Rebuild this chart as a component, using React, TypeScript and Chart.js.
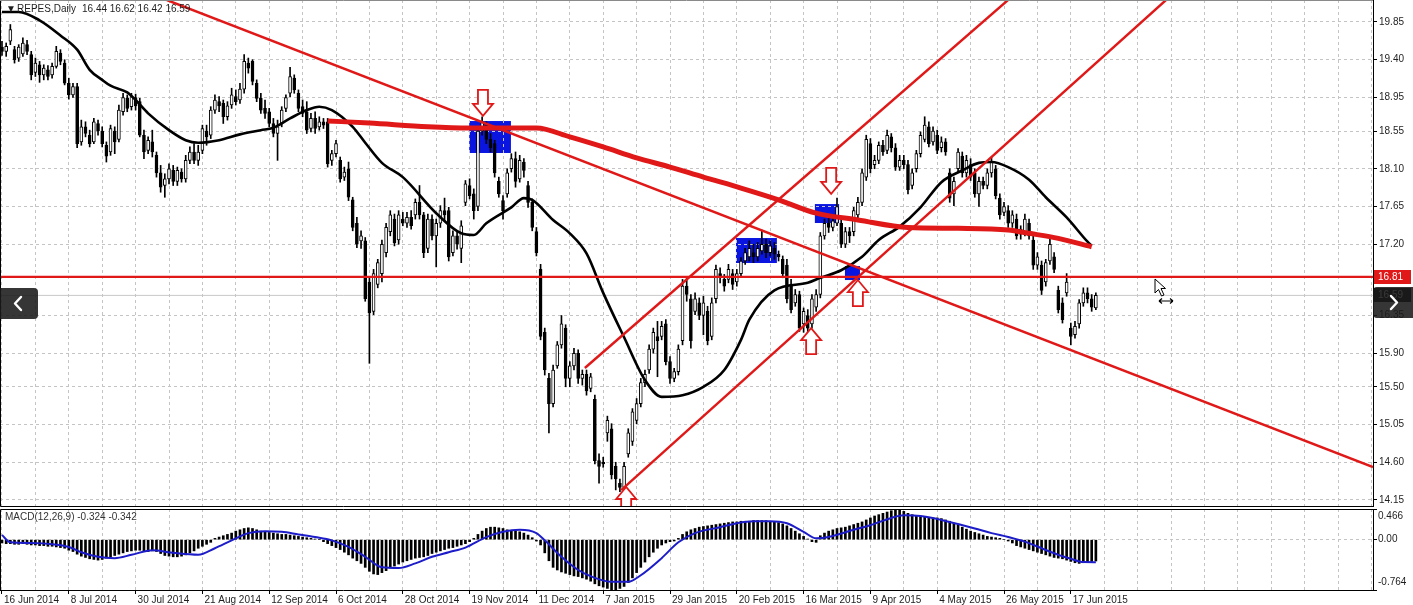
import React, { useEffect, useRef } from 'react';
import { Chart, registerables } from 'chart.js';

Chart.register(...registerables);

const FONT = '"Liberation Sans", Arial, sans-serif';
const RED = '#e01818';
const ZONE_BLUE = '#0a16e0';
const SIGNAL_BLUE = '#1c1cc8';
const GRID = '#c4c4c4';
const TEXT = '#1e1e1e';

// ---- tick labels / titles ----
const dateLabels = [
  '16 Jun 2014', '8 Jul 2014', '30 Jul 2014', '21 Aug 2014', '12 Sep 2014', '6 Oct 2014',
  '28 Oct 2014', '19 Nov 2014', '11 Dec 2014', '7 Jan 2015', '29 Jan 2015', '20 Feb 2015',
  '16 Mar 2015', '9 Apr 2015', '4 May 2015', '26 May 2015', '17 Jun 2015',
];
const priceTicks = [19.85, 19.4, 18.95, 18.55, 18.1, 17.65, 17.2, 16.35, 15.9, 15.5, 15.05, 14.6, 14.15];
const symbolTitle = 'REPES,Daily';
const lastOHLC = '16.44 16.62 16.42 16.59';
const macdTitle = 'MACD(12,26,9) -0.324 -0.342';
const macdMax = 0.466;
const macdMin = -0.764;
const levelLine = 16.81;
const bidPrice = 16.59;

// ---- daily candles (one per bar) ----
const opens = [
  19.55, 19.50, 19.62, 19.52, 19.42, 19.47, 19.58, 19.46, 19.25, 19.34,
  19.22, 19.28, 19.22, 19.32, 19.48, 19.36, 19.12, 18.98, 19.08, 18.42,
  18.60, 18.50, 18.42, 18.64, 18.55, 18.38, 18.30, 18.55, 18.45, 18.78,
  18.94, 18.84, 18.95, 18.90, 18.50, 18.32, 18.42, 18.26, 18.05, 17.90,
  17.98, 18.08, 17.95, 18.06, 17.98, 18.20, 18.30, 18.20, 18.32, 18.55,
  18.50, 18.80, 18.90, 18.88, 18.72, 18.86, 18.96, 18.92, 19.05, 19.36,
  19.38, 19.12, 18.94, 18.82, 18.78, 18.64, 18.52, 18.64, 18.82, 19.00,
  19.18, 19.00, 18.84, 18.78, 18.58, 18.70, 18.60, 18.66, 18.66, 18.20,
  18.28, 18.20, 18.00, 18.10, 17.73, 17.45, 17.24, 17.24, 16.75, 16.40,
  16.72, 16.85, 17.10, 17.35, 17.50, 17.25, 17.50, 17.45, 17.52, 17.55,
  17.70, 17.55, 17.15, 17.50, 17.30, 17.45, 17.60, 17.60, 17.10, 17.30,
  17.15, 17.70, 17.90, 17.80, 17.65, 18.55, 18.62, 18.45, 18.40, 17.95,
  17.72, 17.80, 18.10, 18.22, 17.98, 18.18, 17.90, 17.70, 17.35, 16.90,
  16.15, 15.60, 15.30, 15.75, 16.00, 16.20, 15.60, 15.75, 15.90, 15.60,
  15.65, 15.48, 15.35, 14.62, 14.60, 14.95, 15.00, 14.55, 14.35, 14.30,
  14.70, 14.85, 15.10, 15.30, 15.55, 15.70, 15.95, 16.10, 16.10, 16.25,
  15.80, 15.60, 15.68, 16.05, 16.70, 16.55, 16.40, 16.50, 16.35, 16.40,
  16.10, 16.55, 16.85, 16.78, 16.78, 16.85, 16.75, 16.85, 17.00, 17.05,
  17.10, 17.05, 17.12, 17.20, 17.10, 17.15, 17.08, 17.02, 16.95, 16.72,
  16.50, 16.60, 16.25, 16.35, 16.25, 16.45, 16.60, 17.30, 17.45, 17.40,
  17.45, 17.45, 17.20, 17.35, 17.35, 17.55, 17.70, 18.00, 18.40, 18.15,
  18.20, 18.38, 18.32, 18.48, 18.35, 18.12, 18.20, 18.15, 17.90, 18.10,
  18.28, 18.45, 18.60, 18.42, 18.50, 18.35, 18.42, 18.05, 17.80, 18.10,
  18.25, 18.05, 18.15, 18.05, 17.80, 17.95, 17.90, 18.05, 18.10, 17.75,
  17.58, 17.60, 17.45, 17.50, 17.32, 17.35, 17.45, 17.25, 16.95, 16.95,
  16.75, 17.00, 17.05, 16.65, 16.50, 16.62, 16.20, 16.12, 16.25, 16.50,
  16.62, 16.55, 16.44,
];
const highs = [
  19.62, 19.60, 19.82, 19.56, 19.58, 19.66, 19.63, 19.50, 19.42, 19.38,
  19.34, 19.33, 19.36, 19.56, 19.52, 19.40, 19.18, 19.12, 19.12, 18.68,
  18.66, 18.56, 18.70, 18.68, 18.60, 18.42, 18.62, 18.60, 18.86, 19.00,
  18.98, 19.00, 18.99, 18.94, 18.56, 18.48, 18.56, 18.30, 18.14, 18.04,
  18.16, 18.14, 18.12, 18.10, 18.26, 18.36, 18.40, 18.38, 18.62, 18.62,
  18.84, 18.98, 18.96, 18.92, 18.90, 19.06, 19.04, 19.12, 19.46, 19.42,
  19.40, 19.16, 19.00, 18.92, 18.82, 18.70, 18.68, 18.84, 18.98, 19.31,
  19.22, 19.04, 18.92, 18.90, 18.76, 18.78, 18.72, 18.70, 18.70, 18.32,
  18.44, 18.24, 18.12, 18.18, 17.76, 17.52, 17.36, 17.28, 16.80, 16.90,
  17.02, 17.25, 17.45, 17.60, 17.56, 17.60, 17.58, 17.58, 17.60, 17.74,
  17.90, 17.58, 17.56, 17.55, 17.50, 17.66, 17.75, 17.64, 17.36, 17.36,
  17.48, 17.96, 17.98, 17.86, 18.60, 18.72, 18.66, 18.52, 18.44, 18.00,
  17.78, 18.10, 18.28, 18.30, 18.26, 18.22, 17.95, 17.74, 17.40, 16.96,
  16.20, 15.66, 15.76, 16.04, 16.35, 16.24, 15.80, 15.96, 15.94, 15.70,
  15.70, 15.66, 15.40, 14.70, 14.66, 15.15, 15.06, 14.60, 14.40, 14.60,
  15.00, 15.24, 15.36, 15.60, 15.70, 16.00, 16.20, 16.28, 16.28, 16.30,
  15.86, 15.72, 16.00, 16.78, 16.80, 16.60, 16.62, 16.56, 16.58, 16.46,
  16.56, 16.95, 16.92, 16.84, 16.96, 16.90, 16.90, 17.04, 17.15, 17.24,
  17.20, 17.22, 17.37, 17.26, 17.24, 17.22, 17.12, 17.06, 17.02, 16.78,
  16.66, 16.64, 16.44, 16.42, 16.60, 16.66, 17.34, 17.50, 17.52, 17.55,
  17.75, 17.50, 17.40, 17.40, 17.64, 17.76, 18.10, 18.50, 18.46, 18.26,
  18.42, 18.44, 18.56, 18.52, 18.40, 18.26, 18.26, 18.20, 18.10, 18.32,
  18.54, 18.72, 18.66, 18.60, 18.56, 18.48, 18.46, 18.10, 18.00, 18.34,
  18.30, 18.26, 18.22, 18.10, 18.00, 18.00, 18.10, 18.24, 18.14, 17.80,
  17.70, 17.66, 17.60, 17.56, 17.42, 17.56, 17.50, 17.30, 17.10, 17.00,
  17.02, 17.30, 17.10, 16.70, 16.56, 16.85, 16.26, 16.28, 16.54, 16.68,
  16.68, 16.60, 16.62,
];
const lows = [
  19.45, 19.44, 19.58, 19.36, 19.38, 19.44, 19.46, 19.16, 19.20, 19.13,
  19.16, 19.16, 19.18, 19.30, 19.34, 19.10, 18.93, 18.95, 18.35, 18.38,
  18.48, 18.36, 18.40, 18.50, 18.36, 18.18, 18.26, 18.28, 18.42, 18.74,
  18.78, 18.80, 18.80, 18.48, 18.22, 18.28, 18.24, 18.00, 17.82, 17.76,
  17.92, 17.90, 17.90, 17.94, 17.94, 18.16, 18.16, 18.14, 18.28, 18.38,
  18.46, 18.76, 18.78, 18.64, 18.68, 18.82, 18.86, 18.88, 19.00, 19.24,
  19.10, 18.90, 18.76, 18.70, 18.60, 18.48, 18.20, 18.60, 18.78, 18.96,
  19.00, 18.78, 18.72, 18.52, 18.54, 18.52, 18.56, 18.58, 18.12, 18.14,
  18.24, 17.94, 17.96, 17.72, 17.36, 17.16, 17.15, 16.52, 15.78, 16.36,
  16.68, 16.75, 17.05, 17.30, 17.18, 17.20, 17.42, 17.40, 17.38, 17.50,
  17.50, 17.04, 17.10, 17.25, 16.93, 17.40, 17.48, 17.00, 17.06, 17.14,
  16.98, 17.66, 17.74, 17.50, 17.60, 18.50, 18.40, 18.30, 18.00, 17.76,
  17.50, 17.76, 18.06, 17.88, 17.94, 18.00, 17.64, 17.36, 17.06, 16.06,
  15.64, 14.95, 15.26, 15.72, 15.96, 15.50, 15.50, 15.70, 15.54, 15.52,
  15.40, 15.44, 14.58, 14.35, 14.54, 14.85, 14.40, 14.27, 14.25, 14.28,
  14.66, 14.80, 15.06, 15.26, 15.50, 15.66, 15.90, 15.62, 16.06, 15.76,
  15.54, 15.56, 15.64, 16.00, 16.52, 15.96, 16.36, 16.30, 16.12, 16.00,
  16.06, 16.50, 16.74, 16.64, 16.74, 16.66, 16.70, 16.80, 16.96, 17.00,
  16.98, 17.00, 17.08, 17.04, 17.06, 17.02, 17.00, 16.80, 16.50, 16.38,
  16.46, 16.16, 16.15, 16.14, 16.20, 16.40, 16.56, 17.26, 17.34, 17.36,
  17.42, 17.16, 17.16, 17.22, 17.30, 17.50, 17.66, 17.96, 18.05, 18.10,
  18.16, 18.26, 18.28, 18.30, 18.08, 18.08, 18.10, 17.80, 17.86, 18.06,
  18.24, 18.42, 18.36, 18.38, 18.28, 18.30, 18.26, 17.70, 17.66, 18.06,
  18.00, 18.00, 17.96, 17.76, 17.65, 17.86, 17.86, 18.00, 17.74, 17.50,
  17.54, 17.40, 17.40, 17.26, 17.26, 17.30, 17.26, 16.90, 16.90, 16.60,
  16.70, 16.96, 16.86, 16.38, 16.26, 16.58, 16.00, 16.08, 16.20, 16.46,
  16.50, 16.40, 16.42,
];
const closes = [
  19.50, 19.56, 19.76, 19.40, 19.55, 19.60, 19.50, 19.22, 19.36, 19.22,
  19.30, 19.20, 19.32, 19.50, 19.38, 19.12, 18.98, 19.08, 18.40, 18.60,
  18.52, 18.40, 18.66, 18.55, 18.40, 18.25, 18.58, 18.42, 18.80, 18.95,
  18.82, 18.96, 18.85, 18.50, 18.30, 18.44, 18.30, 18.05, 17.88, 17.98,
  18.10, 17.95, 18.08, 17.98, 18.20, 18.30, 18.20, 18.30, 18.58, 18.48,
  18.80, 18.92, 18.85, 18.72, 18.85, 18.98, 18.90, 19.05, 19.38, 19.30,
  19.14, 18.94, 18.80, 18.76, 18.64, 18.52, 18.60, 18.80, 18.95, 19.20,
  19.04, 18.82, 18.76, 18.56, 18.70, 18.58, 18.66, 18.62, 18.16, 18.28,
  18.40, 17.98, 18.06, 17.76, 17.40, 17.20, 17.30, 16.55, 16.38, 16.85,
  16.98, 17.20, 17.40, 17.55, 17.22, 17.55, 17.45, 17.52, 17.42, 17.70,
  17.55, 17.10, 17.50, 17.30, 17.45, 17.60, 17.55, 17.05, 17.30, 17.20,
  17.42, 17.92, 17.78, 17.60, 18.55, 18.65, 18.45, 18.35, 18.05, 17.80,
  17.60, 18.05, 18.22, 17.95, 18.20, 18.08, 17.70, 17.40, 17.10, 16.10,
  15.70, 15.30, 15.70, 16.00, 16.25, 15.60, 15.75, 15.90, 15.60, 15.65,
  15.45, 15.62, 14.62, 14.55, 14.58, 15.10, 14.45, 14.40, 14.30, 14.55,
  14.95, 15.20, 15.30, 15.55, 15.65, 15.95, 16.15, 16.05, 16.22, 15.80,
  15.60, 15.68, 15.95, 16.70, 16.60, 16.05, 16.55, 16.35, 16.50, 16.05,
  16.50, 16.90, 16.80, 16.70, 16.90, 16.72, 16.85, 17.00, 17.10, 17.15,
  17.05, 17.15, 17.20, 17.10, 17.18, 17.08, 17.05, 16.85, 16.55, 16.42,
  16.60, 16.20, 16.40, 16.20, 16.55, 16.60, 17.30, 17.45, 17.40, 17.48,
  17.65, 17.20, 17.35, 17.30, 17.60, 17.70, 18.05, 18.45, 18.10, 18.20,
  18.38, 18.30, 18.50, 18.35, 18.12, 18.20, 18.15, 17.85, 18.05, 18.28,
  18.50, 18.62, 18.40, 18.55, 18.32, 18.42, 18.30, 17.75, 17.95, 18.30,
  18.05, 18.20, 18.00, 17.80, 17.95, 17.90, 18.05, 18.18, 17.78, 17.55,
  17.65, 17.45, 17.55, 17.30, 17.38, 17.50, 17.30, 16.95, 17.05, 16.65,
  16.98, 17.20, 16.90, 16.42, 16.30, 16.75, 16.10, 16.22, 16.50, 16.62,
  16.55, 16.45, 16.59,
];

// ---- moving averages at sample bars ----
const maFastBars = [
  0, 4, 9, 14, 18, 21, 24, 26, 30, 32, 35, 40, 44, 47, 52, 57, 62, 65, 69, 73,
  76, 79, 84, 87, 91, 96, 104, 110, 113, 116, 122, 125, 127, 132, 136, 140, 144, 149, 154, 158,
  163, 168, 173, 177, 179, 185, 193, 196, 201, 206, 210, 215, 220, 225, 230, 234, 237, 241, 246, 250,
  255, 260, 261,
];
const maFastValues = [
  19.97, 19.97, 19.87, 19.69, 19.52, 19.28, 19.16, 19.09, 19.01, 18.92, 18.76, 18.56, 18.44, 18.41, 18.44, 18.51, 18.56, 18.59, 18.70, 18.80,
  18.84, 18.80, 18.60, 18.41, 18.17, 18.00, 17.57, 17.33, 17.31, 17.45, 17.64, 17.75, 17.73, 17.49, 17.33, 17.09, 16.62, 16.09, 15.58, 15.38,
  15.40, 15.50, 15.70, 16.06, 16.30, 16.65, 16.74, 16.80, 16.89, 17.05, 17.25, 17.41, 17.64, 17.94, 18.08, 18.17, 18.18, 18.12, 17.97, 17.76,
  17.52, 17.23, 17.18,
];
const maSlowBars = [78, 88, 102, 112, 128, 136, 144, 152, 160, 168, 177, 186, 195, 205, 217, 229, 241, 246, 253, 261];
const maSlowValues = [18.67, 18.645, 18.60, 18.585, 18.585, 18.48, 18.36, 18.23, 18.12, 18.00, 17.87, 17.73, 17.57, 17.49, 17.40, 17.39, 17.37, 17.33, 17.27, 17.17];

// ---- MACD(12,26,9): main line as histogram, signal line ----
const macdHist = [
  -0.05, -0.06, -0.06, -0.07, -0.07, -0.06, -0.07, -0.08,
  -0.08, -0.09, -0.09, -0.10, -0.10, -0.11, -0.12, -0.13,
  -0.16, -0.18, -0.22, -0.25, -0.27, -0.29, -0.30, -0.31,
  -0.30, -0.28, -0.26, -0.24, -0.22, -0.20, -0.18, -0.17,
  -0.16, -0.16, -0.17, -0.18, -0.17, -0.18,
  -0.21, -0.24, -0.25, -0.26, -0.26, -0.25, -0.23,
  -0.20, -0.17, -0.13, -0.10, -0.07, -0.04,
  0.02, 0.04, 0.06, 0.08, 0.10,
  0.13, 0.15, 0.17, 0.18, 0.17, 0.15, 0.13,
  0.12, 0.11, 0.10, 0.09, 0.08, 0.08, 0.07, 0.06, 0.05,
  0.04, 0.03, 0.02, 0.01, 0.00,
  -0.03, -0.06, -0.09, -0.12, -0.15, -0.19, -0.23, -0.28, -0.32, -0.36,
  -0.42, -0.48, -0.52, -0.53,
  -0.50, -0.47, -0.43, -0.40, -0.37,
  -0.34, -0.32, -0.30, -0.28, -0.27, -0.26, -0.24, -0.21,
  -0.19, -0.17, -0.15, -0.13, -0.12, -0.10, -0.08, -0.06,
  -0.03, 0.02, 0.08,
  0.13, 0.17, 0.19, 0.19, 0.18, 0.17,
  0.15, 0.14, 0.13, 0.12, 0.10, 0.07,
  0.03, -0.02, -0.08,
  -0.20, -0.32, -0.42,
  -0.46, -0.49, -0.51, -0.53, -0.55, -0.56, -0.58, -0.60,
  -0.63, -0.67, -0.70, -0.72, -0.74, -0.764, -0.76, -0.74, -0.71,
  -0.65, -0.58, -0.50, -0.42, -0.34, -0.26, -0.19, -0.13,
  -0.08, -0.05, -0.03, -0.02, 0.02,
  0.08, 0.12, 0.15, 0.17, 0.19, 0.20,
  0.21, 0.22, 0.23, 0.24, 0.25, 0.26, 0.27, 0.27, 0.28, 0.28,
  0.28, 0.29, 0.29, 0.29, 0.29, 0.28, 0.27, 0.26, 0.24, 0.21,
  0.17, 0.13, 0.09, 0.05,
  0.01, -0.03, -0.04,
  0.06, 0.10, 0.13, 0.15, 0.17, 0.18, 0.19, 0.21, 0.23, 0.25, 0.27, 0.30, 0.33,
  0.36, 0.38, 0.40, 0.42, 0.44, 0.466, 0.45, 0.43,
  0.40, 0.38, 0.37, 0.36, 0.35, 0.34, 0.33, 0.33, 0.32, 0.30, 0.28,
  0.25, 0.22, 0.19, 0.16, 0.13, 0.11, 0.09,
  0.07, 0.05, 0.04, 0.03, 0.02,
  0.00, -0.02, -0.05,
  -0.09, -0.11, -0.13, -0.15, -0.17, -0.19, -0.21,
  -0.23, -0.25, -0.27, -0.28, -0.29, -0.31,
  -0.33, -0.35, -0.36, -0.35, -0.34, -0.33, -0.324,
];
const signalBars = [
  0, 2, 7, 16, 19, 23, 27, 31, 36, 41, 47, 51, 55, 59, 63, 67, 71, 75, 79, 83,
  87, 91, 95, 99, 103, 107, 111, 116, 120, 124, 128, 130, 134, 138, 142, 146, 150, 153, 158, 162,
  166, 172, 176, 180, 184, 188, 192, 195, 198, 204, 208, 213, 216, 220, 225, 233, 237, 241, 245, 249,
  253, 256, 259, 262,
];
const signalValues = [
  0.07, -0.04, -0.05, -0.11, -0.19, -0.26, -0.28, -0.23, -0.16, -0.20, -0.23, -0.13, -0.01, 0.10, 0.13, 0.12, 0.08, 0.04, -0.01, -0.11,
  -0.26, -0.42, -0.43, -0.36, -0.26, -0.19, -0.12, 0.04, 0.12, 0.15, 0.10, -0.01, -0.26, -0.46, -0.58, -0.64, -0.64, -0.54, -0.28, -0.04,
  0.10, 0.19, 0.25, 0.28, 0.28, 0.25, 0.12, 0.02, 0.04, 0.15, 0.22, 0.33, 0.37, 0.36, 0.30, 0.17, 0.10, 0.04, -0.03, -0.13,
  -0.23, -0.29, -0.34, -0.342,
];

// ---- drawn objects (bar index / price anchors) ----
const trendLines = [
  { fromBar: 39.5, fromPrice: 20.112, toBar: 328.38, toPrice: 14.543 },
  { fromBar: 139.6, fromPrice: 15.724, toBar: 240.96, toPrice: 20.112 },
  { fromBar: 148.3, fromPrice: 14.269, toBar: 278.8, toPrice: 20.112 },
];
const zones = [
  { fromBar: 111.9, toBar: 121.9, top: 18.669, bottom: 18.288 },
  { fromBar: 175.8, toBar: 185.6, top: 17.274, bottom: 16.976 },
  { fromBar: 194.7, toBar: 200.5, top: 17.679, bottom: 17.453 },
  { fromBar: 201.9, toBar: 205.5, top: 16.94, bottom: 16.773 },
];
const arrows = [
  { bar: 115.2, price: 18.73, dir: 'down' },
  { bar: 198.6, price: 17.8, dir: 'down' },
  { bar: 193.8, price: 16.2, dir: 'up' },
  { bar: 205.0, price: 16.773, dir: 'up' },
  { bar: 149.5, price: 14.305, dir: 'up' },
];

// ---- visible window ----
const X_MIN = -0.479;
const X_MAX = 328.38;
const PRICE_MIN = 14.0665;
const PRICE_MAX = 20.1123;
const GRID_STEP = 8;
const LABEL_STEP = 16;
const gridBars = Array.from({ length: Math.floor(X_MAX / GRID_STEP) + 1 }, (_, k) => k * GRID_STEP);

function drawArrow(ctx: any, cx: number, tipY: number, dir: string) {
  const s = dir === 'down' ? 1 : -1;
  ctx.beginPath();
  ctx.moveTo(cx, tipY);
  ctx.lineTo(cx - 10, tipY - s * 12);
  ctx.lineTo(cx - 5, tipY - s * 12);
  ctx.lineTo(cx - 5, tipY - s * 26);
  ctx.lineTo(cx + 5, tipY - s * 26);
  ctx.lineTo(cx + 5, tipY - s * 12);
  ctx.lineTo(cx + 10, tipY - s * 12);
  ctx.closePath();
  ctx.fillStyle = '#ffffff';
  ctx.fill();
  ctx.strokeStyle = RED;
  ctx.lineWidth = 1.8;
  ctx.stroke();
}

const mainOverlay = {
  id: 'mainOverlay',
  beforeDraw(chart: any) {
    const { ctx, scales } = chart;
    const x = scales.x, y = scales.y;
    ctx.save();
    ctx.fillStyle = ZONE_BLUE;
    zones.forEach((z) => {
      const x1 = x.getPixelForValue(z.fromBar);
      const x2 = x.getPixelForValue(z.toBar);
      const y1 = y.getPixelForValue(z.top);
      const y2 = y.getPixelForValue(z.bottom);
      ctx.fillRect(x1, y1, x2 - x1, y2 - y1);
    });
    ctx.restore();
  },
  afterDatasetsDraw(chart: any) {
    const { ctx, chartArea, scales } = chart;
    ctx.save();
    ctx.beginPath();
    ctx.rect(chartArea.left, chartArea.top, chartArea.right - chartArea.left, chartArea.bottom - chartArea.top);
    ctx.clip();
    arrows.forEach((a) => drawArrow(ctx, scales.x.getPixelForValue(a.bar), scales.y.getPixelForValue(a.price), a.dir));
    ctx.restore();
  },
  afterDraw(chart: any) {
    const { ctx, chartArea, scales } = chart;
    const y = scales.y;
    ctx.save();
    ctx.lineWidth = 1;
    ctx.strokeStyle = '#000';
    ctx.beginPath();
    ctx.moveTo(0.5, chartArea.top);
    ctx.lineTo(0.5, chartArea.bottom - 0.5);
    ctx.lineTo(chartArea.right, chartArea.bottom - 0.5);
    ctx.stroke();
    ctx.strokeStyle = '#8a8a8a';
    ctx.beginPath();
    ctx.moveTo(0, 0.5);
    ctx.lineTo(chartArea.right, 0.5);
    ctx.stroke();

    ctx.font = `10px ${FONT}`;
    ctx.textBaseline = 'middle';
    ctx.textAlign = 'left';
    const box = (price: number, fill: string, color: string) => {
      const py = Math.round(y.getPixelForValue(price));
      ctx.fillStyle = fill;
      ctx.fillRect(chartArea.right + 1, py - 7, 37, 14);
      ctx.fillStyle = color;
      ctx.fillText(price.toFixed(2), chartArea.right + 5, py + 0.5);
    };
    box(levelLine, RED, '#ffffff');
    box(bidPrice, '#111111', '#ffffff');

    ctx.fillStyle = TEXT;
    ctx.fillText('▼', 6, 9);
    ctx.fillText(symbolTitle, 17, 9);
    ctx.fillText(lastOHLC, 82, 9);
    ctx.restore();
  },
};

const macdOverlay = {
  id: 'macdOverlay',
  afterDraw(chart: any) {
    const { ctx, chartArea, scales } = chart;
    ctx.save();
    ctx.lineWidth = 1;
    ctx.strokeStyle = '#000';
    ctx.beginPath();
    ctx.moveTo(0.5, chartArea.bottom);
    ctx.lineTo(0.5, chartArea.top + 0.5);
    ctx.lineTo(chartArea.right, chartArea.top + 0.5);
    ctx.stroke();
    ctx.font = `10px ${FONT}`;
    ctx.fillStyle = TEXT;
    ctx.textBaseline = 'middle';
    ctx.textAlign = 'left';
    const lx = chartArea.right + 5;
    ctx.fillText(macdMax.toFixed(3), lx, chartArea.top + 7);
    ctx.fillText((0).toFixed(2), lx, scales.y.getPixelForValue(0));
    ctx.fillText(macdMin.toFixed(3), lx, chartArea.bottom - 8);
    ctx.fillStyle = '#333';
    ctx.fillText(macdTitle, 5, chartArea.top + 8);
    ctx.restore();
  },
};

const xGridScale = (showLabels: boolean) => ({
  type: 'linear',
  min: X_MIN,
  max: X_MAX,
  offset: false,
  afterBuildTicks: (s: any) => { s.ticks = gridBars.map((v) => ({ value: v })); },
  afterFit: (s: any) => {
    s.height = showLabels ? 15 : 0;
    s.paddingLeft = 0;
    s.paddingRight = 0;
  },
  ticks: showLabels
    ? {
        autoSkip: false,
        maxRotation: 0,
        minRotation: 0,
        align: 'start',
        labelOffset: 2,
        padding: 0,
        color: TEXT,
        font: { family: FONT, size: 10 },
        callback: (v: any) => {
          const n = Number(v);
          if (n % LABEL_STEP !== 0) return '';
          return dateLabels[n / LABEL_STEP] ?? '';
        },
      }
    : { display: false },
  grid: {
    color: GRID,
    offset: false,
    drawTicks: showLabels,
    tickLength: 4,
    tickColor: (c: any) => {
      const v = c.tick ? c.tick.value : -1;
      return v % LABEL_STEP === 0 && v / LABEL_STEP < dateLabels.length ? '#000' : 'rgba(0,0,0,0)';
    },
  },
  border: { display: showLabels, color: '#000', dash: [3, 3] },
});

export default function App() {
  const mainRef = useRef<HTMLCanvasElement>(null);
  const macdRef = useRef<HTMLCanvasElement>(null);

  useEffect(() => {
    const bodies = opens.map((o, i) => ({ x: i, y: [o, closes[i]] }));
    const wicks = highs.map((h, i) => ({ x: i, y: [lows[i], h] }));
    const bodyColors = opens.map((o, i) => (closes[i] >= o ? '#ffffff' : '#000000'));

    const trendSets = trendLines.map((t) => ({
      type: 'line',
      data: [{ x: t.fromBar, y: t.fromPrice }, { x: t.toBar, y: t.toPrice }],
      borderColor: RED,
      borderWidth: 2.4,
      pointRadius: 0,
      order: 1,
    }));

    const main = new Chart(mainRef.current as any, {
      type: 'bar',
      data: {
        datasets: [
          ...trendSets,
          {
            type: 'line',
            data: [{ x: X_MIN, y: levelLine }, { x: X_MAX, y: levelLine }],
            borderColor: RED,
            borderWidth: 2.2,
            pointRadius: 0,
            order: 1,
          },
          {
            type: 'line',
            data: maSlowBars.map((b, i) => ({ x: b, y: maSlowValues[i] })),
            borderColor: RED,
            borderWidth: 5,
            pointRadius: 0,
            cubicInterpolationMode: 'monotone',
            order: 3,
          },
          {
            type: 'line',
            data: maFastBars.map((b, i) => ({ x: b, y: maFastValues[i] })),
            borderColor: '#000000',
            borderWidth: 2.6,
            pointRadius: 0,
            cubicInterpolationMode: 'monotone',
            order: 4,
          },
          {
            type: 'bar',
            data: bodies,
            backgroundColor: bodyColors,
            borderColor: '#000000',
            borderWidth: 1,
            borderSkipped: false,
            barThickness: 3,
            minBarLength: 1,
            grouped: false,
            order: 6,
          },
          {
            type: 'bar',
            data: wicks,
            backgroundColor: '#000000',
            barThickness: 1,
            grouped: false,
            order: 7,
          },
          {
            type: 'line',
            data: [{ x: X_MIN, y: bidPrice }, { x: X_MAX, y: bidPrice }],
            borderColor: '#c8c8c8',
            borderWidth: 1,
            pointRadius: 0,
            order: 9,
          },
        ] as any,
      },
      options: {
        responsive: false,
        animation: false,
        devicePixelRatio: 1,
        events: [],
        layout: { padding: 0 },
        plugins: { legend: { display: false }, tooltip: { enabled: false } },
        scales: {
          x: xGridScale(false) as any,
          y: {
            type: 'linear',
            position: 'right',
            min: PRICE_MIN,
            max: PRICE_MAX,
            beginAtZero: false,
            afterBuildTicks: (s: any) => { s.ticks = priceTicks.map((v) => ({ value: v })); },
            afterFit: (s: any) => {
              s.width = 40;
              s.paddingTop = 0;
              s.paddingBottom = 0;
            },
            ticks: {
              autoSkip: false,
              padding: 2,
              color: TEXT,
              font: { family: FONT, size: 10 },
              callback: (v: any) => Number(v).toFixed(2),
            },
            grid: { color: GRID, tickColor: '#000', tickLength: 4 },
            border: { display: true, color: '#000', width: 1, dash: [3, 3] },
          },
        },
      },
      plugins: [mainOverlay],
    } as any);

    const macd = new Chart(macdRef.current as any, {
      type: 'bar',
      data: {
        datasets: [
          {
            type: 'line',
            data: signalBars.map((b, i) => ({ x: b, y: signalValues[i] })),
            borderColor: SIGNAL_BLUE,
            borderWidth: 2,
            pointRadius: 0,
            cubicInterpolationMode: 'monotone',
            order: 0,
          },
          {
            type: 'bar',
            data: macdHist.map((v, i) => ({ x: i, y: v })),
            backgroundColor: '#000000',
            barThickness: 2,
            grouped: false,
            order: 1,
          },
        ] as any,
      },
      options: {
        responsive: false,
        animation: false,
        devicePixelRatio: 1,
        events: [],
        layout: { padding: { top: 2, left: 0, right: 0, bottom: 0 } },
        plugins: { legend: { display: false }, tooltip: { enabled: false } },
        scales: {
          x: xGridScale(true) as any,
          y: {
            type: 'linear',
            position: 'right',
            min: macdMin,
            max: macdMax,
            beginAtZero: false,
            afterBuildTicks: (s: any) => {
              s.ticks = [{ value: macdMin }, { value: 0 }, { value: macdMax }];
            },
            afterFit: (s: any) => {
              s.width = 40;
              s.paddingTop = 0;
              s.paddingBottom = 0;
            },
            ticks: { display: false },
            grid: {
              color: (c: any) => (c.tick && c.tick.value === 0 ? GRID : 'rgba(0,0,0,0)'),
              tickColor: '#000',
              tickLength: 4,
            },
            border: { display: true, color: '#000', width: 1, dash: [3, 3] },
          },
        },
      },
      plugins: [macdOverlay],
    } as any);

    return () => {
      main.destroy();
      macd.destroy();
    };
  }, []);

  const navBase: any = {
    position: 'absolute',
    background: 'rgba(26,26,26,0.88)',
    height: 31,
  };

  return (
    <div style={{ position: 'fixed', left: 0, top: 0, width: 1413, height: 605, background: '#ffffff', overflow: 'hidden' }}>
      <canvas ref={mainRef} width={1413} height={507} style={{ position: 'absolute', left: 0, top: 0 }} />
      <canvas ref={macdRef} width={1413} height={98} style={{ position: 'absolute', left: 0, top: 507 }} />
      <div style={{ ...navBase, left: 0, top: 288, width: 38, borderRadius: '0 4px 4px 0' }}>
        <svg width="38" height="31" viewBox="0 0 38 31">
          <polyline points="21,9 15,15.5 21,22" fill="none" stroke="#fff" strokeWidth="2.4" strokeLinecap="round" strokeLinejoin="round" />
        </svg>
      </div>
      <div style={{ ...navBase, left: 1373, top: 287, width: 40, borderRadius: '4px 0 0 4px' }}>
        <svg width="40" height="31" viewBox="0 0 40 31">
          <polyline points="18,9 24,15.5 18,22" fill="none" stroke="#fff" strokeWidth="2.4" strokeLinecap="round" strokeLinejoin="round" />
        </svg>
      </div>
      <svg width="30" height="34" style={{ position: 'absolute', left: 1154, top: 278 }} viewBox="0 0 30 34">
        <path d="M1,1 L1,15 L4.5,11.5 L7.5,18 L10,17 L7,10.5 L11.5,10.5 Z" fill="#fff" stroke="#000" strokeWidth="1" />
        <path d="M5,23 L19,23 M5,23 L8,20.5 M5,23 L8,25.5 M19,23 L16,20.5 M19,23 L16,25.5" stroke="#000" strokeWidth="1.2" fill="none" />
      </svg>
    </div>
  );
}
